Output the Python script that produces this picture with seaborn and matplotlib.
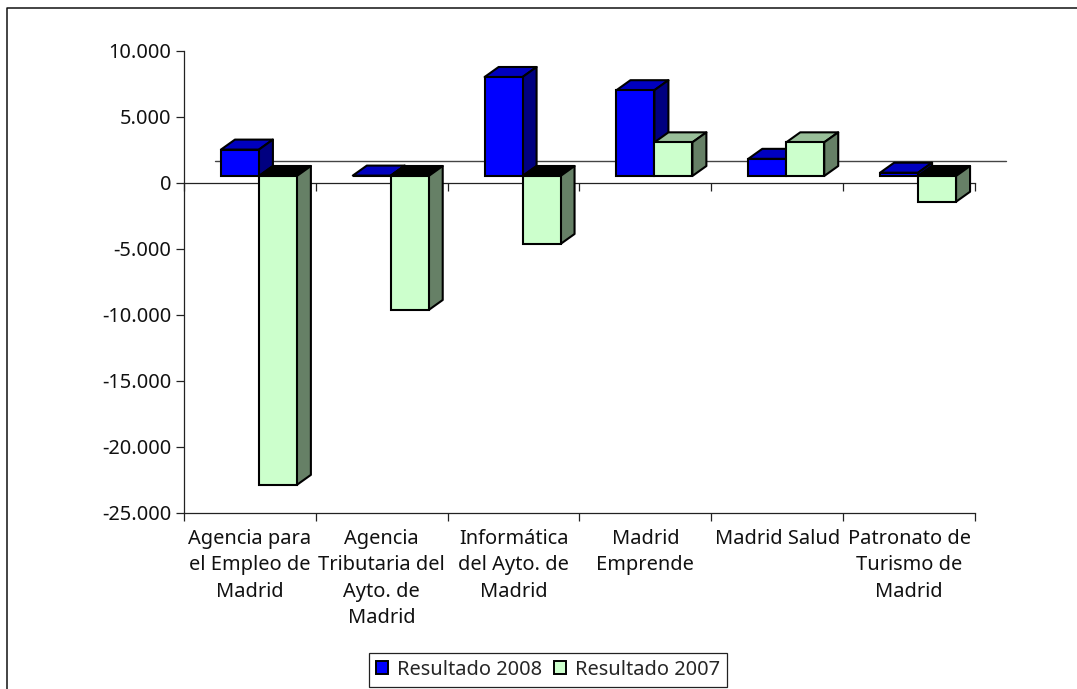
import matplotlib
matplotlib.use("Agg")
import matplotlib.pyplot as plt
import pandas as pd
import seaborn as sns
from matplotlib.lines import Line2D
from matplotlib.patches import Patch, Polygon
from matplotlib.transforms import Affine2D, blended_transform_factory

categories = ["Agencia para\nel Empleo de\nMadrid", "Agencia\nTributaria del\nAyto. de\nMadrid",
              "Informática\ndel Ayto. de\nMadrid", "Madrid\nEmprende", "Madrid Salud",
              "Patronato de\nTurismo de\nMadrid"]
series_names = ["Resultado 2008", "Resultado 2007"]
resultado_2008 = [2000, 30, 7500, 6500, 1300, 250]
resultado_2007 = [-23400, -10150, -5150, 2550, 2550, -1950]
y_ticks = [10000, 5000, 0, -5000, -10000, -15000, -20000, -25000]
y_tick_labels = ["10.000", "5.000", "0", "-5.000", "-10.000", "-15.000", "-20.000", "-25.000"]

front_colors = ["#0000FF", "#CCFFCC"]
top_colors = ["#0000BF", "#99BF99"]
side_colors = ["#000080", "#668066"]

sns.set_style("white")
plt.rcParams["font.family"] = ["Noto Sans", "DejaVu Sans"]
FS = 14.4
BAR_LW = 1.5

W, H = 1077, 689
fig = plt.figure(figsize=(W / 100, H / 100), dpi=100, facecolor="white")
ax = fig.add_axes([184 / W, (H - 513) / H, 791 / W, 462 / H])

df = pd.DataFrame({
    "cat": categories * 2,
    "serie": [series_names[0]] * 6 + [series_names[1]] * 6,
    "valor": resultado_2008 + resultado_2007,
})
sns.barplot(data=df, x="cat", y="valor", hue="serie", order=categories, hue_order=series_names,
            palette=front_colors, width=0.576, saturation=1, errorbar=None, legend=False,
            edgecolor="black", linewidth=BAR_LW, ax=ax)
ax.set_xlim(-0.5, 5.5)
ax.set_ylim(-25000, 10000)
ax.set_xlabel("")
ax.set_ylabel("")

px_x = 6 / 791
px_y = 35000 / 462
DX, DY = 14 * px_x, 10 * px_y
front_shift = ax.transData + Affine2D().translate(9, 7)
wall_shift = ax.transData + Affine2D().translate(31, 22)

for s, container in enumerate(ax.containers):
    for i, bar in enumerate(container.patches):
        z = 3 + i + 0.5 * s
        x0, w = bar.get_x(), bar.get_width()
        val = resultado_2008[i] if s == 0 else resultado_2007[i]
        x1 = x0 + w
        top = max(val, 0)
        bottom = min(val, 0)
        bar.set_transform(front_shift)
        bar.set_clip_on(False)
        bar.set_zorder(z + 0.2)
        top_color = "black" if (s == 1 and val < 0) else top_colors[s]
        ax.add_patch(Polygon([(x0, top), (x1, top), (x1 + DX, top + DY), (x0 + DX, top + DY)],
                             closed=True, facecolor=top_color, edgecolor="black", linewidth=BAR_LW,
                             transform=front_shift, clip_on=False, zorder=z, joinstyle="round"))
        ax.add_patch(Polygon([(x1, top), (x1 + DX, top + DY), (x1 + DX, bottom + DY), (x1, bottom)],
                             closed=True, facecolor=side_colors[s], edgecolor="black", linewidth=BAR_LW,
                             transform=front_shift, clip_on=False, zorder=z, joinstyle="round"))

# back wall line at value 0 and the zero axis line
ax.plot([-0.5, 5.5], [0, 0], color="#444444", lw=1.0, transform=wall_shift, clip_on=False, zorder=1)
boundaries = [b - 0.5 for b in range(7)]
tick_px = 8 * 0.72
zero_axis = ax.secondary_xaxis(0, transform=blended_transform_factory(ax.transAxes, ax.transData))
zero_axis.set_xticks(boundaries, [""] * 7)
zero_axis.tick_params(axis="x", length=tick_px, width=0.9, color="#222222", bottom=True)
zero_axis.spines["bottom"].set_color("#222222")
zero_axis.spines["bottom"].set_linewidth(0.9)
zero_axis.set_zorder(1.5)

for name in ("top", "right"):
    ax.spines[name].set_visible(False)
for name in ("left", "bottom"):
    ax.spines[name].set_color("#222222")
    ax.spines[name].set_linewidth(0.9)
    ax.spines[name].set_zorder(1)

ax.set_yticks(y_ticks, y_tick_labels)
ax.tick_params(axis="y", left=True, length=tick_px, width=0.9, color="#222222",
               labelsize=FS, labelcolor="#111111", pad=3.4)
ax.set_xticks(boundaries, minor=True)
ax.set_xticks(range(6), categories)
ax.tick_params(axis="x", which="minor", bottom=True, length=tick_px, width=0.9, color="#222222")
ax.tick_params(axis="x", which="major", bottom=False, length=0, labelsize=FS, labelcolor="#111111", pad=11.5)
for label in ax.get_xticklabels():
    label.set_linespacing(1.42)
    label.set_multialignment("center")

handles = [Patch(facecolor=c, edgecolor="black", linewidth=1.4, label=n)
           for c, n in zip(front_colors, series_names)]
leg = ax.legend(handles=handles, ncol=2, loc="center", bbox_to_anchor=(548 / W, (H - 670) / H),
                bbox_transform=fig.transFigure, fontsize=FS, frameon=True, fancybox=False,
                framealpha=1, edgecolor="#222222", handlelength=0.62, handleheight=0.62,
                handletextpad=0.45, columnspacing=0.55, borderpad=0.35, borderaxespad=0)
leg.get_frame().set_linewidth(0.9)

fig.add_artist(Line2D([7 / W, 7 / W, 1], [0, (H - 8) / H, (H - 8) / H], color="#111111", lw=1.1))

fig.savefig("out.png", dpi=100, facecolor="white")
